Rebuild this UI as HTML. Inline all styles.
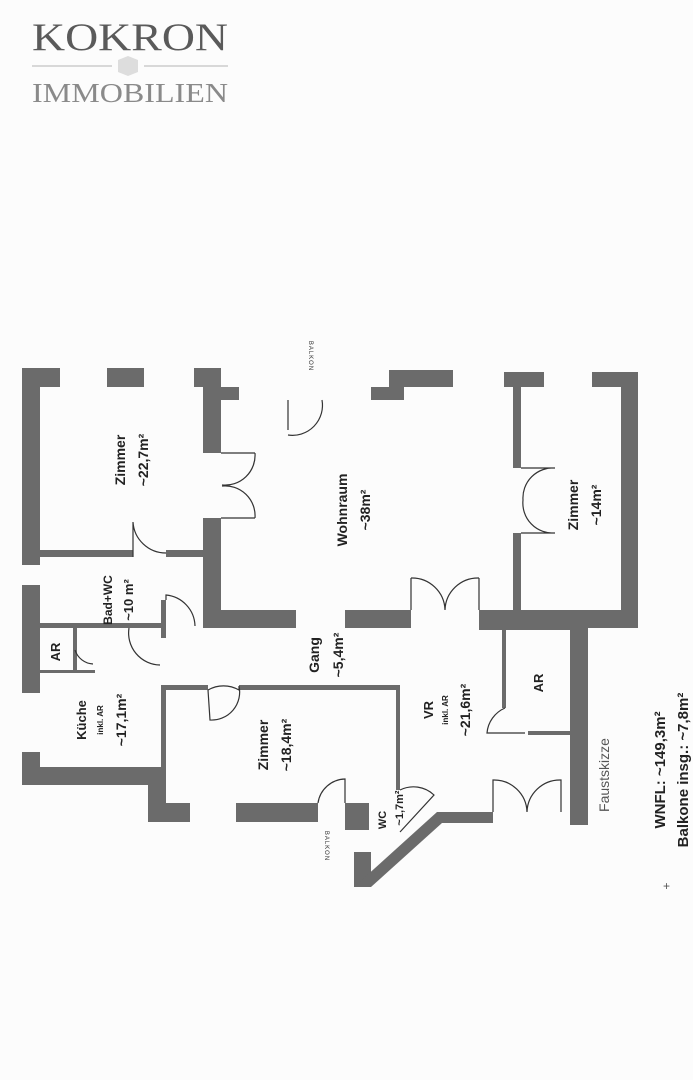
<!DOCTYPE html>
<html><head><meta charset="utf-8"><style>
html,body{margin:0;padding:0;background:#fdfdfd;}
svg{display:block;}
</style></head><body>
<svg width="693" height="1080" viewBox="0 0 693 1080" xmlns="http://www.w3.org/2000/svg" font-family="Liberation Sans, sans-serif">
<rect width="693" height="1080" fill="#fcfcfc"/>
<!-- logo -->
<text x="130" y="50" text-anchor="middle" font-family="Liberation Serif, serif" font-size="39" fill="#5a5a5a" textLength="196" lengthAdjust="spacingAndGlyphs">KOKRON</text>
<line x1="32" y1="66" x2="112" y2="66" stroke="#ccc" stroke-width="1.5"/>
<line x1="144" y1="66" x2="228" y2="66" stroke="#ccc" stroke-width="1.5"/>
<polygon points="128,56 138,60 138,72 128,76 118,72 118,60" fill="#ddd"/>
<text x="130" y="102" text-anchor="middle" font-family="Liberation Serif, serif" font-size="27" fill="#8a8a8a" textLength="196" lengthAdjust="spacingAndGlyphs">IMMOBILIEN</text>

<g fill="#6b6b6b">
<!-- top walls -->
<rect x="22" y="368" width="38" height="19"/>
<rect x="107" y="368" width="37" height="19"/>
<rect x="194" y="368" width="27" height="19"/>
<rect x="203" y="368" width="18" height="85"/>
<rect x="221" y="387" width="18" height="13"/>
<rect x="389" y="370" width="64" height="17"/>
<rect x="371" y="387" width="33" height="13"/>
<rect x="504" y="372" width="40" height="15"/>
<rect x="513" y="372" width="8" height="96"/>
<rect x="513" y="533" width="8" height="80"/>
<rect x="592" y="372" width="46" height="15"/>
<rect x="621" y="372" width="17" height="248"/>
<!-- left outer -->
<rect x="22" y="368" width="18" height="197"/>
<rect x="22" y="585" width="18" height="108"/>
<rect x="22" y="752" width="18" height="33"/>
<rect x="22" y="767" width="141" height="18"/>
<rect x="148" y="767" width="15" height="55"/>
<rect x="148" y="803" width="42" height="19"/>
<!-- Zimmer bottom thin -->
<rect x="40" y="550" width="93" height="7"/>
<rect x="166" y="550" width="37" height="7"/>
<!-- Wohnraum left/bottom -->
<rect x="203" y="518" width="18" height="110"/>
<rect x="203" y="610" width="93" height="18"/>
<rect x="345" y="610" width="66" height="18"/>
<rect x="479" y="610" width="159" height="18"/>
<rect x="479" y="613" width="109" height="17"/>
<rect x="570" y="613" width="18" height="212"/>
<!-- Bad/Kueche -->
<rect x="161" y="600" width="5" height="28"/>
<rect x="40" y="623" width="123" height="5"/>
<rect x="73" y="628" width="4" height="44"/>
<rect x="40" y="670" width="55" height="3"/>
<rect x="161" y="628" width="5" height="10"/>
<rect x="161" y="685" width="5" height="118"/>
<!-- Zimmer 18 -->
<rect x="163" y="685" width="45" height="5"/>
<rect x="239" y="685" width="161" height="5"/>
<rect x="396" y="685" width="4" height="105"/>
<rect x="236" y="803" width="82" height="19"/>
<rect x="345" y="803" width="24" height="27"/>
<!-- WC -->
<rect x="354" y="852" width="17" height="35"/>
<polygon points="354,887 371,887 442,823 437,812"/>
<rect x="437" y="812" width="56" height="11"/>
<!-- VR AR -->
<rect x="502" y="630" width="4" height="78"/>
<rect x="528" y="731" width="42" height="4"/>
</g>
<g fill="none" stroke="#333" stroke-width="1.2">
<!-- doors -->
<path d="M288 430 L288 400 M288 435 A30 30 0 0 0 322 400"/>
<path d="M221 453 L255 453 M221 518 L255 518 M255 453 A30 30 0 0 1 222 485 M255 518 A30 30 0 0 0 222 486"/>
<path d="M521 468 L555 468 M521 533 L555 533 M555 468 A30 30 0 0 0 523 500 M555 533 A30 30 0 0 1 523 500"/>
<path d="M133 557 L133 522 A33 33 0 0 0 166 553"/>
<path d="M166 600 L166 595 A32 32 0 0 1 195 626"/>
<path d="M411 610 L411 578 M479 610 L479 578 M411 578 A33 33 0 0 1 445 610 M479 578 A33 33 0 0 0 445 610"/>
<path d="M129 628 A32 32 0 0 0 160 665"/>
<path d="M75 650 A20 20 0 0 0 93 664"/>
<path d="M208 690 A31 31 0 0 1 239 690 L239 686 M208 690 L210 720 A28 28 0 0 0 239 686"/>
<path d="M318 803 A28 28 0 0 1 345 779 L345 803"/>
<path d="M400 790 A30 30 0 0 1 434 795 L400 832"/>
<path d="M493 812 L493 780 A33 33 0 0 1 527 812 M561 812 L561 780 A33 33 0 0 0 527 812"/>
<path d="M505 708 A30 30 0 0 0 487 733 L525 733"/>
</g>
<g fill="#222" font-weight="bold">
<text transform="translate(125,460) rotate(-90)" text-anchor="middle" font-size="14">Zimmer</text>
<text transform="translate(148,460) rotate(-90)" text-anchor="middle" font-size="14">~22,7m²</text>
<text transform="translate(347,510) rotate(-90)" text-anchor="middle" font-size="14">Wohnraum</text>
<text transform="translate(370,510) rotate(-90)" text-anchor="middle" font-size="14">~38m²</text>
<text transform="translate(578,505) rotate(-90)" text-anchor="middle" font-size="14">Zimmer</text>
<text transform="translate(601,505) rotate(-90)" text-anchor="middle" font-size="14">~14m²</text>
<text transform="translate(112,600) rotate(-90)" text-anchor="middle" font-size="12">Bad+WC</text>
<text transform="translate(133,600) rotate(-90)" text-anchor="middle" font-size="13">~10 m²</text>
<text transform="translate(60,652) rotate(-90)" text-anchor="middle" font-size="13">AR</text>
<text transform="translate(319,655) rotate(-90)" text-anchor="middle" font-size="14">Gang</text>
<text transform="translate(343,655) rotate(-90)" text-anchor="middle" font-size="14">~5,4m²</text>
<text transform="translate(86,720) rotate(-90)" text-anchor="middle" font-size="13">Küche</text>
<text transform="translate(103,720) rotate(-90)" text-anchor="middle" font-size="8">inkl. AR</text>
<text transform="translate(126,720) rotate(-90)" text-anchor="middle" font-size="14">~17,1m²</text>
<text transform="translate(268,745) rotate(-90)" text-anchor="middle" font-size="14">Zimmer</text>
<text transform="translate(291,745) rotate(-90)" text-anchor="middle" font-size="14">~18,4m²</text>
<text transform="translate(433,710) rotate(-90)" text-anchor="middle" font-size="13">VR</text>
<text transform="translate(448,710) rotate(-90)" text-anchor="middle" font-size="8">inkl. AR</text>
<text transform="translate(470,710) rotate(-90)" text-anchor="middle" font-size="14">~21,6m²</text>
<text transform="translate(543,683) rotate(-90)" text-anchor="middle" font-size="13">AR</text>
<text transform="translate(386,820) rotate(-90)" text-anchor="middle" font-size="11">WC</text>
<text transform="translate(403,808) rotate(-90)" text-anchor="middle" font-size="11">~1,7m²</text>
<text transform="translate(665,770) rotate(-90)" text-anchor="middle" font-size="15">WNFL: ~149,3m²</text>
<text transform="translate(688,770) rotate(-90)" text-anchor="middle" font-size="15">Balkone insg.: ~7,8m²</text>
</g>
<text transform="translate(609,775) rotate(-90)" text-anchor="middle" font-size="14" fill="#555">Faustskizze</text>
<text transform="translate(309,356) rotate(90)" text-anchor="middle" font-size="6" fill="#333" letter-spacing="1">BALKON</text>
<text transform="translate(325,846) rotate(90)" text-anchor="middle" font-size="6" fill="#333" letter-spacing="1">BALKON</text>
<text x="663" y="890" font-size="12" fill="#555">+</text>
</svg>
</body></html>
